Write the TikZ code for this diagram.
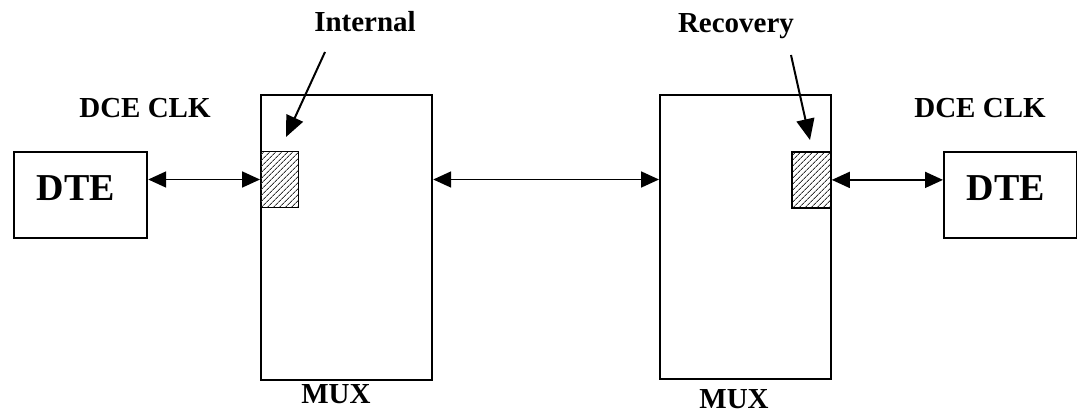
\documentclass[tikz,border=0pt]{standalone}
\usepackage{fontspec}
\setmainfont{Liberation Serif}
\usetikzlibrary{arrows.meta,patterns.meta}
\begin{document}
\begin{tikzpicture}[x=1pt,y=-1pt,
  blk/.style={draw, line width=2.2pt, inner sep=0pt, anchor=north west},
  clk/.style={blk, line width=1.8pt, fill=white,
    pattern={Lines[angle=45,distance=4pt,line width=1pt]}, pattern color=black!80},
  lbl/.style={font=\bfseries\fontsize{29}{30}\selectfont, anchor=base, inner sep=0pt},
  big/.style={font=\bfseries\fontsize{38}{40}\selectfont, anchor=base, inner sep=0pt},
  link/.style={line width=1.8pt, {Triangle[length=18pt,width=16pt]}-{Triangle[length=18pt,width=16pt]}},
  pointer/.style={line width=2pt, -{Triangle[length=21pt,width=18pt]}}]
\useasboundingbox (0,0) rectangle (1077,414);

% terminal equipment
\node[blk, minimum width=133pt, minimum height=86pt] (dteL) at (13,151) {};
\node[blk, minimum width=133pt, minimum height=86pt] (dteR) at (943,151) {};
\node[big] (dteLt) at (76,201) {DTE};
\node[big] (dteRt) at (1006,201) {DTE};

% multiplexers
\node[blk, minimum width=171pt, minimum height=285pt] (muxL) at (260,94) {};
\node[blk, minimum width=171pt, minimum height=284pt] (muxR) at (659,94) {};
\node[lbl] (muxLt) at (336,403) {MUX};
\node[lbl] (muxRt) at (734,408) {MUX};

% clock ports
\node[clk, minimum width=38pt, minimum height=56pt] (clkL) at (260,151) {};
\node[clk, minimum width=39pt, minimum height=56pt] (clkR) at (791,151) {};

% clock labels
\node[lbl] (dceL) at (145,118) {DCE CLK};
\node[lbl] (dceR) at (980,118) {DCE CLK};
\node[lbl] (intl) at (365,32) {Internal};
\node[lbl] (recv) at (736,33) {Recovery};
\coordinate (intlS) at (325,52);
\coordinate (intlE) at (286,137);
\coordinate (recvS) at (791,55);
\coordinate (recvE) at (810,140);

% links
\draw[link] (clkL.west -| dteL.east) -- (clkL.west);
\draw[link] (clkL.west -| muxL.east) -- (clkL.west -| muxR.west);
\draw[link] (clkR.east) -- (clkR.east -| dteR.west);

% pointers to clock ports
\draw[pointer] (intlS) -- (intlE);
\draw[pointer] (recvS) -- (recvE);
\end{tikzpicture}
\end{document}
